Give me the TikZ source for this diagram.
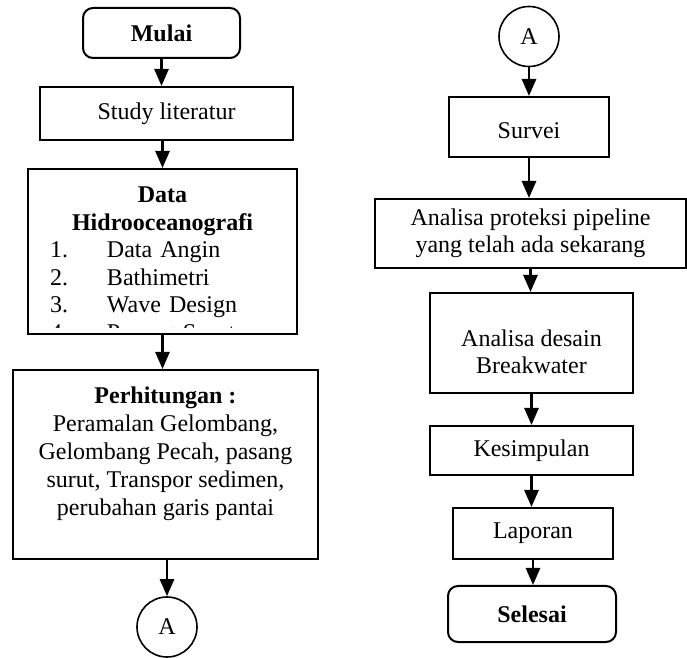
\documentclass[tikz,border=0pt]{standalone}
\usepackage{fontspec}
\setmainfont{Liberation Serif}
\usetikzlibrary{arrows.meta, positioning, calc}
\tikzset{
    box/.style={rectangle, draw=black, line width=1pt, align=center, font=\fontsize{12}{13.5}\selectfont, inner sep=3pt},
    term/.style={box, rounded corners=5pt, font=\fontsize{12}{13.5}\selectfont\bfseries},
    conn/.style={circle, draw=black, line width=0.8pt, minimum size=30pt, inner sep=0pt, font=\fontsize{12}{13.5}\selectfont},
    txt/.style={inner sep=0pt, font=\fontsize{12}{13.5}\selectfont},
    arr/.style={-{Triangle[length=8.5pt, width=7pt]}, line width=1.3pt, black}
}
\begin{document}
\begin{tikzpicture}[x=0.5pt, y=-0.5pt]
    \useasboundingbox (0,0) rectangle (687,658);
    % kolom kiri
    \node[term, minimum width=78.5pt, minimum height=25pt] (mulai) at (161.5,33) {Mulai};
    \node[box, minimum width=126.5pt, minimum height=26.5pt] (study) at (166.5,113.5) {Study literatur};
    \node[box, minimum width=134.5pt, minimum height=82.5pt] (data) at (162.5,251.5) {};
    \begin{scope}
        \clip ($(data.south west)+(1pt,3.5pt)$) rectangle ($(data.north east)+(-1pt,-1pt)$);
        \node[txt, text width=112.5pt, align=left, anchor=north, font=\fontsize{12}{13.8}\selectfont] (datatxt) at ([yshift=-9.2pt]data.north)
            {{\centering\bfseries Data\par Hidrooceanografi\par}
             \makebox[28.5pt][l]{1.}Data Angin\par
             \makebox[28.5pt][l]{2.}Bathimetri\par
             \makebox[28.5pt][l]{3.}Wave Design\par
             \makebox[28.5pt][l]{4.}Pasang Surut\par};
    \end{scope}
    \node[box, minimum width=152.5pt, minimum height=94.5pt] (hitung) at (165.5,464.5) {};
    \node[txt, align=center, anchor=north, font=\fontsize{12}{14}\selectfont] (hitungtxt) at ([yshift=-8.8pt]hitung.north)
        {\textbf{Perhitungan :}\\Peramalan Gelombang,\\Gelombang Pecah, pasang\\surut, Transpor sedimen,\\perubahan garis pantai};
    \node[conn] (konA) at (167,627) {A};
    \draw[arr] (mulai.south) -- (mulai.south |- study.north);
    \draw[arr] (study.south -| data.north) -- (data.north);
    \draw[arr] (data.south) -- (data.south |- hitung.north);
    \draw[arr] (hitung.south -| konA.north) -- (konA.north);
    % kolom kanan
    \node[conn] (konB) at (529,36.5) {A};
    \node[box, minimum width=80pt, minimum height=30pt] (survei) at (529,127) {};
    \node[txt] (surveitxt) at ([yshift=-2pt]survei.center) {Survei};
    \node[box, minimum width=155.5pt, minimum height=34.5pt] (proteksi) at (530.5,233.5) {Analisa proteksi pipeline\\yang telah ada sekarang};
    \node[box, minimum width=101.5pt, minimum height=50pt] (desain) at (531.5,343) {};
    \node[txt, align=center] (desaintxt) at ([yshift=-4.5pt]desain.center) {Analisa desain\\Breakwater};
    \node[box, minimum width=101.5pt, minimum height=24.5pt] (simpul) at (531.5,450.5) {Kesimpulan};
    \node[box, minimum width=80pt, minimum height=25.5pt] (lapor) at (533,533.5) {Laporan};
    \node[term, minimum width=84pt, minimum height=28pt] (selesai) at (532,614) {Selesai};
    \draw[arr] (konB.south) -- (konB.south |- survei.north);
    \draw[arr] (survei.south) -- (survei.south |- proteksi.north);
    \draw[arr] (proteksi.south) -- (proteksi.south |- desain.north);
    \draw[arr] (desain.south) -- (desain.south |- simpul.north);
    \draw[arr] (simpul.south) -- (simpul.south |- lapor.north);
    \draw[arr] (lapor.south) -- (lapor.south |- selesai.north);
\end{tikzpicture}
\end{document}
